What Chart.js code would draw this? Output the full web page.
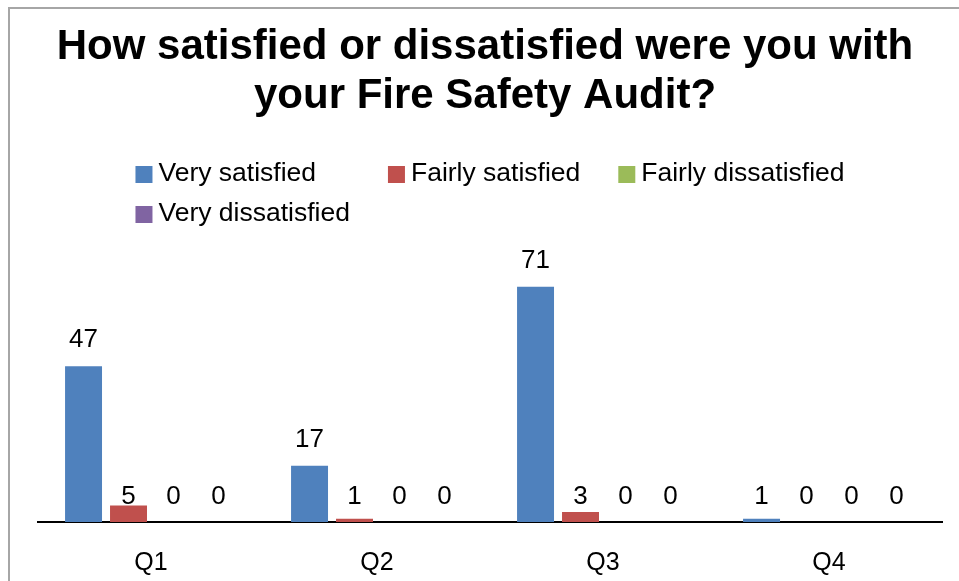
<!DOCTYPE html>
<html>
<head>
<meta charset="utf-8">
<script src="https://cdn.jsdelivr.net/npm/chart.js@4/dist/chart.umd.min.js"></script>
<style>
  html, body { margin: 0; padding: 0; background: #fff; }
  body { width: 959px; height: 581px; position: relative; overflow: hidden; }
  #frame {
    position: absolute; left: 8px; top: 7px; right: -10px; bottom: -10px;
    border-left: 2px solid #a6a6a6; border-top: 2px solid #a6a6a6;
  }
  #wrap { position: absolute; left: 0; top: 0; width: 959px; height: 581px; }
</style>
</head>
<body>
<div id="frame"></div>
<div id="wrap"><canvas id="chart" width="959" height="581"></canvas></div>
<script>
const FONT = "'Liberation Sans', Arial, sans-serif";

const categories = ["Q1", "Q2", "Q3", "Q4"];
const seriesNames = ["Very satisfied", "Fairly satisfied", "Fairly dissatisfied", "Very dissatisfied"];
const verySatisfied = [47, 17, 71, 1];
const fairlySatisfied = [5, 1, 3, 0];
const fairlyDissatisfied = [0, 0, 0, 0];
const veryDissatisfied = [0, 0, 0, 0];
const seriesColors = ["#4f81bd", "#c0504d", "#9bbb59", "#8064a2"];
const titleLines = ["How satisfied or dissatisfied were you with", "your Fire Safety Audit?"];
const yMax = 80;

// two-line bold heading above the legend
const headerTitle = {
  id: "headerTitle",
  afterDraw(chart) {
    const ctx = chart.ctx;
    ctx.save();
    ctx.font = "bold 42px " + FONT;
    ctx.fillStyle = "#000";
    ctx.textAlign = "center";
    ctx.textBaseline = "alphabetic";
    const cx = 485;
    titleLines.forEach((line, i) => ctx.fillText(line, cx, 59 + i * 49));
    ctx.restore();
  }
};

// legend laid out as a grid: three columns, rows left aligned
const gridLegend = {
  id: "gridLegend",
  afterDraw(chart) {
    const ctx = chart.ctx;
    const box = 17, gap = 6, colGap = 38, rowH = 40, perRow = 3;
    ctx.save();
    ctx.font = "26.5px " + FONT;
    const items = chart.data.datasets.map(ds => ({ text: ds.label, color: ds.backgroundColor }));
    const colW = [];
    items.forEach((it, i) => {
      const c = i % perRow;
      const w = box + gap + ctx.measureText(it.text).width;
      colW[c] = Math.max(colW[c] || 0, w);
    });
    const total = colW.reduce((a, b) => a + b, 0) + colGap * (colW.length - 1);
    const area = chart.chartArea;
    const startX = (area.left + area.right) / 2 - total / 2;
    const top = 166;
    ctx.textAlign = "left";
    ctx.textBaseline = "alphabetic";
    items.forEach((it, i) => {
      const c = i % perRow, r = Math.floor(i / perRow);
      let x = startX;
      for (let k = 0; k < c; k++) x += colW[k] + colGap;
      const y = top + r * rowH;
      ctx.fillStyle = it.color;
      ctx.fillRect(x, y, box, box);
      ctx.fillStyle = "#000";
      ctx.fillText(it.text, x + box + gap, y + 15);
    });
    ctx.restore();
  }
};

// value labels: tall bars get the number 19px above their top,
// short bars share one line just above the axis
const barValues = {
  id: "barValues",
  afterDatasetsDraw(chart) {
    const ctx = chart.ctx;
    ctx.save();
    ctx.font = "26px " + FONT;
    ctx.fillStyle = "#000";
    ctx.textAlign = "center";
    ctx.textBaseline = "alphabetic";
    chart.data.datasets.forEach((ds, di) => {
      const meta = chart.getDatasetMeta(di);
      meta.data.forEach((bar, i) => {
        const h = bar.base - bar.y;
        const y = Math.min(h > 20 ? bar.y - 19 : bar.y, bar.base - 18);
        ctx.fillText(String(ds.data[i]), bar.x, y);
      });
    });
    ctx.restore();
  }
};

const seriesData = [verySatisfied, fairlySatisfied, fairlyDissatisfied, veryDissatisfied];

new Chart(document.getElementById("chart"), {
  type: "bar",
  data: {
    labels: categories,
    datasets: seriesNames.map((name, i) => ({
      label: name,
      data: seriesData[i],
      backgroundColor: seriesColors[i],
      borderWidth: 0,
      categoryPercentage: 0.796,
      barPercentage: 0.822
    }))
  },
  options: {
    responsive: false,
    animation: false,
    layout: { padding: { top: 257, left: 38, right: 17, bottom: 0 } },
    plugins: {
      legend: { display: false },
      title: { display: false },
      tooltip: { enabled: false }
    },
    scales: {
      x: {
        grid: { display: false, drawTicks: false },
        border: { display: true, color: "#000", width: 2 },
        ticks: { color: "#000", font: { family: FONT, size: 25 }, padding: 26 },
        afterFit(scale) { scale.height = 59; }
      },
      y: {
        display: false,
        min: 0,
        max: yMax
      }
    }
  },
  plugins: [headerTitle, gridLegend, barValues]
});
</script>
</body>
</html>
